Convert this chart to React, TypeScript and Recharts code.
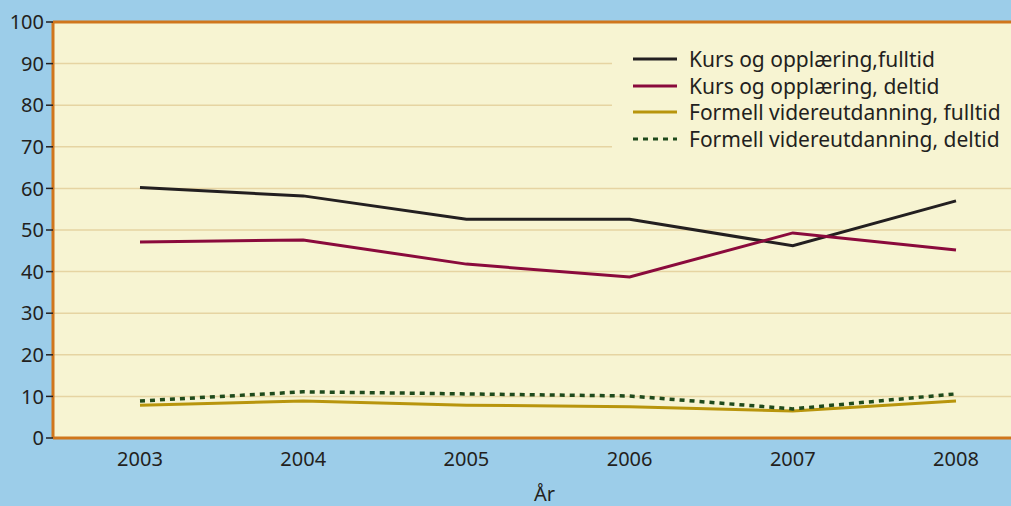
import { CartesianGrid, Line, LineChart, ReferenceLine, XAxis, YAxis } from "recharts"

const years = ["2003", "2004", "2005", "2006", "2007", "2008"]
const kursFulltid = [60.2, 58.2, 52.6, 52.6, 46.2, 57.0]
const kursDeltid = [47.1, 47.6, 41.8, 38.7, 49.3, 45.2]
const formellFulltid = [7.9, 8.9, 7.9, 7.5, 6.5, 8.9]
const formellDeltid = [8.9, 11.1, 10.6, 10.1, 7.0, 10.6]
const yTicks = [0, 10, 20, 30, 40, 50, 60, 70, 80, 90, 100]

const series = [
  { key: "kursFulltid", name: "Kurs og opplæring,fulltid", color: "#231f20", dash: undefined },
  { key: "kursDeltid", name: "Kurs og opplæring, deltid", color: "#8a0a3c", dash: undefined },
  { key: "formellFulltid", name: "Formell videreutdanning, fulltid", color: "#b8950c", dash: undefined },
  { key: "formellDeltid", name: "Formell videreutdanning, deltid", color: "#1f4a1c", dash: "5 5" },
]

const data = years.map((year, i) => ({
  year,
  kursFulltid: kursFulltid[i],
  kursDeltid: kursDeltid[i],
  formellFulltid: formellFulltid[i],
  formellDeltid: formellDeltid[i],
}))

const font = "'Noto Sans', sans-serif"
const orange = "#d0761c"

function LegendBox() {
  return (
    <div
      style={{
        position: "absolute",
        left: 612,
        top: 36,
        width: 399,
        background: "#f7f4d2",
        padding: "10px 0 12px 21px",
        fontFamily: font,
      }}
    >
      {series.map((s) => (
        <div key={s.key} style={{ display: "flex", alignItems: "center", height: 26.5 }}>
          <svg width={44} height={6} style={{ marginRight: 12 }}>
            <line x1={0} y1={3} x2={44} y2={3} stroke={s.color} strokeWidth={3} strokeDasharray={s.dash} />
          </svg>
          <span style={{ fontSize: 21, color: "#231f20", whiteSpace: "nowrap" }}>{s.name}</span>
        </div>
      ))}
    </div>
  )
}

export default function App() {
  return (
    <div
      style={{
        position: "absolute",
        left: 0,
        top: 0,
        width: 1011,
        height: 506,
        overflow: "hidden",
        background: "#9ccde9",
      }}
    >
      <LineChart width={1036} height={506} data={data} margin={{ top: 22, right: 0, left: 8, bottom: 0 }}>
        <CartesianGrid vertical={false} stroke="#e6d4a2" fill="#f7f4d2" strokeWidth={1.5} />
        <XAxis
          dataKey="year"
          height={68}
          padding={{ left: 87, right: 80 }}
          axisLine={{ stroke: orange, strokeWidth: 3 }}
          tickLine={false}
          tickMargin={8}
          tick={{ fill: "#231f20", fontSize: 20, fontFamily: font }}
          label={{ value: "År", position: "insideBottom", offset: 5, fill: "#231f20", fontSize: 20, fontFamily: font }}
        />
        <YAxis
          type="number"
          domain={[0, 100]}
          ticks={yTicks}
          width={45}
          axisLine={{ stroke: orange, strokeWidth: 3 }}
          tickLine={{ stroke: "#231f20", strokeWidth: 1.5 }}
          tickSize={7}
          tickMargin={2}
          tick={{ fill: "#231f20", fontSize: 20, fontFamily: font }}
        />
        <ReferenceLine y={100} stroke={orange} strokeWidth={3} />
        {series.map((s) => (
          <Line
            key={s.key}
            type="linear"
            dataKey={s.key}
            name={s.name}
            stroke={s.color}
            strokeWidth={s.dash ? 3.5 : 3}
            strokeDasharray={s.dash}
            dot={false}
            activeDot={false}
            isAnimationActive={false}
          />
        ))}
      </LineChart>
      <LegendBox />
    </div>
  )
}
